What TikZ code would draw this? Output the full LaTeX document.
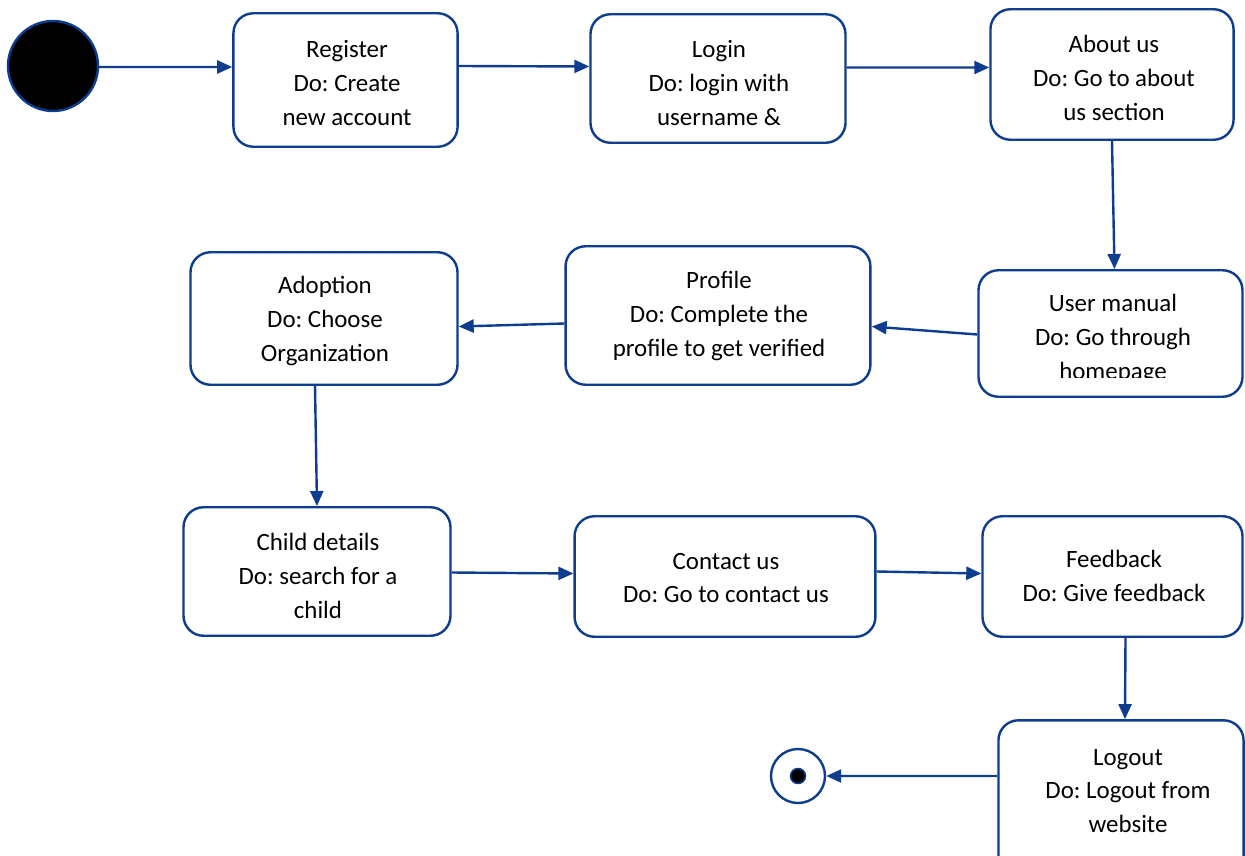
\documentclass[tikz,border=0pt]{standalone}
\usepackage{fontspec}
\setmainfont{Carlito}
\usetikzlibrary{arrows.meta}
\definecolor{uml}{RGB}{14,61,143}
\tikzset{
  box/.style={draw=uml, line width=2.4bp, rounded corners=20bp, fill=white, inner sep=0pt},
  txt/.style={align=center, font=\fontsize{25}{34}\selectfont, text=black, inner sep=0pt},
  flow/.style={draw=uml, line width=2.4bp, -{Triangle[length=15bp,width=13bp]}},
}
\newcommand{\statebox}[5]{% name, x1, y1, x2, y2
  \node[box, minimum width=#4-#2, minimum height=#5-#3] (#1) at ({(#2+#4)/2},{(#3+#5)/2}) {};
}
\frenchspacing
\begin{document}
\begin{tikzpicture}[x=1bp,y=-1bp]
\clip (0,0) rectangle (1245,856);
\fill[white] (0,0) rectangle (1245,856);
% start
\node[circle, draw=uml, line width=2.4bp, fill=black, minimum size=90bp, inner sep=0pt] (start) at (53,66) {};
% boxes
\statebox{reg}{233}{13}{458}{147}
\statebox{login}{590}{14}{846}{143}
\statebox{about}{990}{9}{1234}{140}
\statebox{manual}{978}{270}{1243}{397}
\statebox{profile}{565}{246}{871}{385}
\statebox{adopt}{190}{252}{458}{385}
\statebox{child}{183}{507}{451}{636}
\statebox{contact}{574}{516}{876}{637}
\statebox{feed}{982}{516}{1243}{637}
\statebox{logout}{998}{720}{1244}{880}
% end state
\node[circle, draw=uml, line width=2.4bp, fill=white, minimum size=54bp, inner sep=0pt] (end) at (798,776) {};
\node[circle, draw=uml, line width=1.5bp, fill=black, minimum size=15bp, inner sep=0pt] (endd) at (end.center) {};
% texts
\node[txt] (reg-t) at (347,83) {Register\\Do: Create\\new account};
\node[txt] (login-t) at (719,83) {Login\\Do: login with\\username \&};
\node[txt] (about-t) at (1114,78) {About us\\Do: Go to about\\us section};
\begin{scope}
\clip (978,270) rectangle (1243,377);
\node[txt] (manual-t) at (1113,339) {User manual\\Do: Go through\\homepage};
\end{scope}
\node[txt] (profile-t) at (719,316) {Profile\\Do: Complete the\\profile to get verified};
\node[txt] (adopt-t) at (325,321) {Adoption\\Do: Choose\\Organization};
\node[txt] (child-t) at (318,576) {Child details\\Do: search for a\\child};
\node[txt] (contact-t) at (726,578) {Contact us\\Do: Go to contact us};
\node[txt] (feed-t) at (1114,576) {Feedback\\Do: Give feedback};
\node[txt] (logout-t) at (1128,791) {Logout\\Do: Logout from\\website};
% connectors
\draw[flow] ([yshift=-1bp]start.east) -- ([yshift=13bp]reg.west);
\draw[flow] ([yshift=14bp]reg.east) -- ([yshift=12bp]login.west);
\draw[flow] ([yshift=11bp]login.east) -- ([yshift=7bp]about.west);
\draw[flow] (about.south) -- ([xshift=4bp]manual.north);
\draw[flow] ([yshift=-1bp]manual.west) -- ([yshift=-11bp]profile.west -| profile.east);
\draw[flow] ([yshift=-8bp]profile.west) -- ([yshift=-8bp]adopt.east);
\draw[flow] ([xshift=-9bp]adopt.south) -- (child.north);
\draw[flow] ([yshift=-1bp]child.east) -- ([yshift=3bp]contact.west);
\draw[flow] ([yshift=5bp]contact.east) -- ([yshift=3bp]feed.west);
\draw[flow] ([xshift=13bp]feed.south) -- ([xshift=4bp]logout.north);
\draw[flow] ([yshift=24bp]logout.west) -- (end.east);
\end{tikzpicture}
\end{document}
